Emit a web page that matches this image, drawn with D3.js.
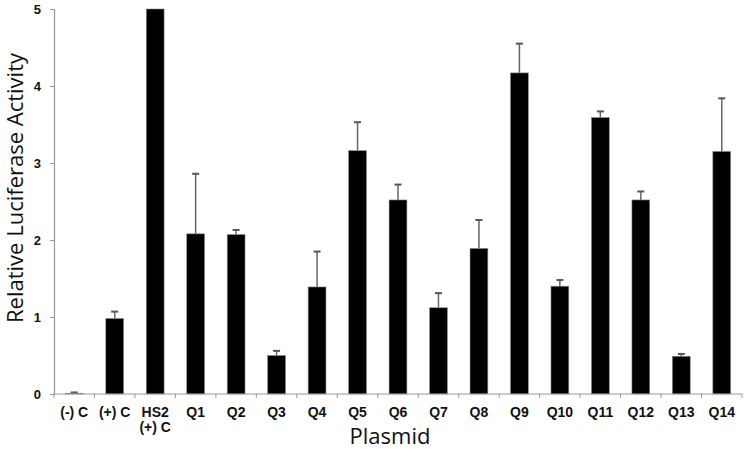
<!DOCTYPE html>
<html>
<head>
<meta charset="utf-8">
<script src="https://cdn.jsdelivr.net/npm/d3@7"></script>
<style>
  body { margin: 0; background: #fff; }
  svg { display: block; }
</style>
</head>
<body>
<svg id="chart" width="745" height="449"></svg>
<script>
// plasmid labels (multi-line labels split with "|")
const plasmids = ["(-) C", "(+) C", "HS2|(+) C", "Q1", "Q2", "Q3", "Q4", "Q5", "Q6", "Q7",
  "Q8", "Q9", "Q10", "Q11", "Q12", "Q13", "Q14"];
const activity = [0.01, 0.98, 5.0, 2.08, 2.07, 0.50, 1.39, 3.16, 2.52, 1.12,
  1.89, 4.17, 1.40, 3.59, 2.52, 0.49, 3.15];
const errors = [0.01, 0.09, 0, 0.78, 0.06, 0.06, 0.46, 0.37, 0.20, 0.19,
  0.37, 0.38, 0.08, 0.08, 0.11, 0.03, 0.69];
const yTicks = [0, 1, 2, 3, 4, 5];

const svg = d3.select("#chart");
const margin = {left: 54, right: 3, top: 9, bottom: 55};
const W = 745, H = 449;

let x = d3.scaleBand()
  .domain(plasmids)
  .range([margin.left, W - margin.right])
  .paddingInner(0.56)
  .paddingOuter(0.28);

let y = d3.scaleLinear()
  .domain([0, 5])
  .range([H - margin.bottom, margin.top]);

let data = plasmids.map(function(p, i){ return {name: p, v: activity[i], e: errors[i]}; });

// error bars (behind bars)
let eb = svg.append("g").attr("class", "errors");
eb.selectAll("line.stem")
  .data(data.filter(d => d.e > 0))
  .enter().append("line").attr("class", "stem")
  .attr("x1", d => x(d.name) + x.bandwidth() / 2)
  .attr("x2", d => x(d.name) + x.bandwidth() / 2)
  .attr("y1", d => y(d.v))
  .attr("y2", d => y(d.v + d.e))
  .attr("stroke", "#666").attr("stroke-width", 1.5);
eb.selectAll("line.cap")
  .data(data.filter(d => d.e > 0))
  .enter().append("line").attr("class", "cap")
  .attr("x1", d => x(d.name) + x.bandwidth() / 2 - 3.5)
  .attr("x2", d => x(d.name) + x.bandwidth() / 2 + 3.5)
  .attr("y1", d => y(d.v + d.e))
  .attr("y2", d => y(d.v + d.e))
  .attr("stroke", "#555").attr("stroke-width", 2);

// bars
svg.append("g").selectAll("rect")
  .data(data)
  .enter().append("rect")
  .attr("x", d => x(d.name))
  .attr("y", d => y(d.v))
  .attr("width", x.bandwidth())
  .attr("height", d => y(0) - y(d.v))
  .attr("fill", "#000")
  .attr("stroke", "#888")
  .attr("stroke-width", 0.6);

// y axis
let yAxis = svg.append("g")
  .attr("transform", "translate(" + margin.left + ",0)")
  .call(d3.axisLeft(y).tickValues(yTicks).tickSize(4).tickPadding(9).tickFormat(d3.format("d")));
yAxis.select(".domain").attr("stroke", "#999").attr("stroke-width", 1.2);
yAxis.selectAll(".tick line").attr("stroke", "#999");
yAxis.selectAll(".tick text")
  .attr("font-family", "Liberation Sans, Arial, sans-serif")
  .attr("font-weight", "bold")
  .attr("font-size", 13)
  .attr("fill", "#111");

// x axis: line + ticks at category boundaries
let xg = svg.append("g").attr("transform", "translate(0," + y(0) + ")");
xg.append("line")
  .attr("x1", margin.left).attr("x2", W - margin.right)
  .attr("stroke", "#999").attr("stroke-width", 1.2);
let step = x.step();
let bounds = d3.range(plasmids.length + 1).map(i => margin.left + i * step);
xg.selectAll("line.tk")
  .data(bounds)
  .enter().append("line").attr("class", "tk")
  .attr("x1", d => d).attr("x2", d => d)
  .attr("y1", 0).attr("y2", 4)
  .attr("stroke", "#999");

let labels = xg.selectAll("text.lbl")
  .data(plasmids)
  .enter().append("text").attr("class", "lbl")
  .attr("x", d => x(d) + x.bandwidth() / 2)
  .attr("y", 23)
  .attr("text-anchor", "middle")
  .attr("font-family", "Liberation Sans, Arial, sans-serif")
  .attr("font-weight", "bold")
  .attr("font-size", 14)
  .attr("fill", "#111");
labels.each(function(d){
  let parts = d.split("|");
  let t = d3.select(this);
  parts.forEach(function(p, i){
    t.append("tspan")
      .attr("x", x(d) + x.bandwidth() / 2)
      .attr("dy", i === 0 ? 0 : 15)
      .text(p);
  });
});

// axis titles
svg.append("text")
  .attr("transform", "translate(23," + 188 + ") rotate(-90)")
  .attr("text-anchor", "middle")
  .attr("font-family", "Open Sans, sans-serif")
  .attr("font-size", 22)
  .attr("fill", "#111")
  .text("Relative Luciferase Activity");

svg.append("text")
  .attr("x", 390)
  .attr("y", 444)
  .attr("text-anchor", "middle")
  .attr("font-family", "Open Sans, sans-serif")
  .attr("font-size", 22)
  .attr("fill", "#111")
  .text("Plasmid");
</script>
</body>
</html>
